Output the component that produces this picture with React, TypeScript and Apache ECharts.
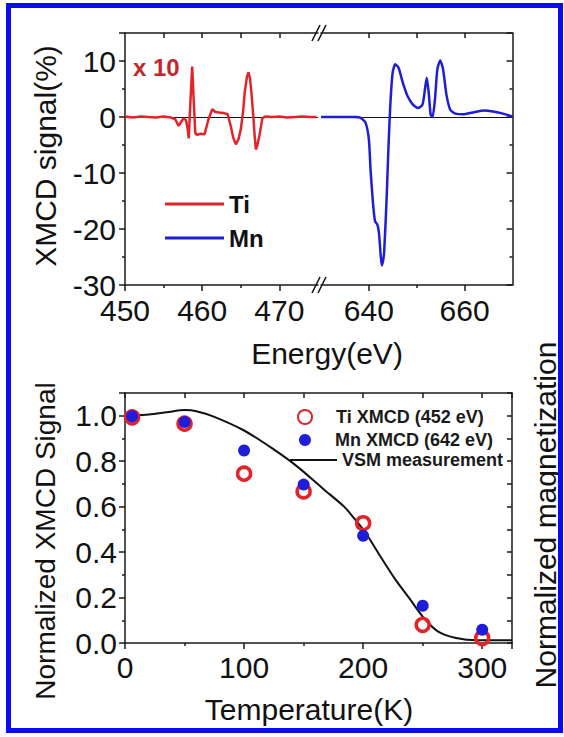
import React, { useEffect, useRef } from "react";
import * as echarts from "echarts";

// ---- Top panel: XMCD spectra ----
const tiEnergy = [450.0, 451.0, 452.0, 453.0, 454.0, 455.0, 456.0, 456.5, 456.95, 457.3, 457.6, 457.9, 458.1, 458.26, 458.45, 458.7, 458.9, 459.1, 459.3, 459.8, 460.3, 460.8, 461.3, 461.7, 462.2, 462.8, 463.3, 463.7, 464.0, 464.35, 464.7, 465.0, 465.3, 465.5, 465.8, 466.0, 466.2, 466.4, 466.65, 466.8, 466.95, 467.15, 467.4, 467.8, 468.2, 469.0, 470.0, 471.0, 472.0, 473.0, 474.0, 474.8];
const tiSignal = [0.1, -0.1, 0.1, 0.0, -0.1, 0.1, -0.1, -0.4, -1.6, -0.8, -0.2, -0.6, -2.0, -3.8, 2.0, 9.0, 3.0, -2.8, -3.2, -3.0, -3.1, -0.5, 1.4, 0.9, 0.8, 0.7, 0.5, -1.6, -3.6, -4.9, -4.0, -2.2, 1.0, 4.3, 7.2, 8.0, 6.8, 4.0, -0.4, -3.5, -5.8, -5.0, -3.4, -0.2, 0.1, 0.0, 0.1, -0.1, 0.0, 0.1, 0.0, 0.0];
const mnEnergy = [630, 632, 634, 636, 637.2, 638.2, 639.3, 640.0, 640.35, 640.85, 641.28, 641.77, 642.1, 642.45, 642.7, 643.0, 643.2, 643.7, 644.1, 644.5, 644.96, 645.5, 646.2, 647.1, 648.1, 649.2, 650.3, 651.2, 651.8, 652.1, 652.5, 652.9, 653.3, 653.8, 654.3, 654.9, 655.5, 656.2, 657.0, 658.1, 659.9, 662.0, 664.0, 665.9, 668.0, 670.0];
const mnSignal = [0, 0, 0, 0, 0, -0.1, -1.0, -4.0, -9.4, -15.3, -18.6, -19.2, -20.7, -24.5, -26.5, -25.5, -24.0, -14.7, -5.2, 2.5, 7.9, 9.4, 8.8, 6.1, 3.7, 2.2, 1.6, 2.2, 5.5, 7.0, 4.3, 0.45, 0.0, 3.1, 8.5, 10.1, 8.5, 4.0, 1.3, 0.6, 0.5, 0.85, 1.15, 1.0, 0.6, 0.1];

const tiMajorTicks = [450, 460, 470];
const tiMinorTicks = [455, 465];
const tiTopTicks = [455, 460, 465, 470];
const mnMajorTicks = [640, 660];
const mnMinorTicks = [650];
const mnTopTicks = [640, 650, 660];

// ---- Bottom panel: temperature dependence ----
const temps = [6, 50, 100, 150, 200, 250, 300];
const tiXmcd = [0.993, 0.965, 0.745, 0.667, 0.527, 0.08, 0.022];
const mnXmcd = [0.998, 0.972, 0.847, 0.697, 0.472, 0.164, 0.058];
const vsmTemp = [6, 20, 35, 50, 60, 75, 100, 124, 145, 166, 184, 193, 202, 214, 227, 239, 251, 263, 278, 296, 325];
const vsmMag = [1.0, 1.005, 1.015, 1.025, 1.02, 0.995, 0.935, 0.855, 0.775, 0.68, 0.6, 0.545, 0.485, 0.385, 0.28, 0.195, 0.11, 0.05, 0.022, 0.012, 0.012];

const FONT = "'Liberation Sans', Arial, Helvetica, sans-serif";
const RED = "#e3232a";
const BLUE = "#1e1ed8";
const AX = { color: "#1a1a1a", width: 1.5 };

function zip(a: number[], b: number[]) {
  return a.map((v, i) => [v, b[i]]);
}

export default function App() {
  const ref = useRef<HTMLDivElement>(null);
  useEffect(() => {
    if (!ref.current) return;
    const chart = echarts.init(ref.current, undefined, { renderer: "svg" });
    const label30 = { fontSize: 30, color: "#111", fontFamily: FONT };
    const noSplit = { show: false };
    const xBase = (grid: number, min: number, max: number) => ({
      type: "value",
      gridIndex: grid,
      min,
      max,
      splitLine: noSplit,
    });
    const legendText = { fontSize: 18, fontWeight: "bold", fontFamily: FONT, color: "#1a1a1a" };
    const option: any = {
      animation: false,
      backgroundColor: "#ffffff",
      grid: [
        { left: 125, top: 33, width: 193, height: 252 },
        { left: 321, top: 33, width: 191.5, height: 252 },
        { left: 125, top: 393, width: 387, height: 250 },
      ],
      xAxis: [
        {
          ...xBase(0, 450, 475),
          position: "bottom",
          axisLine: { show: true, onZero: false, lineStyle: AX },
          axisTick: { show: true, customValues: tiMajorTicks, length: 6, lineStyle: AX },
          axisLabel: { ...label30, customValues: tiMajorTicks, margin: 10 },
        },
        {
          ...xBase(0, 450, 475),
          position: "bottom",
          axisLine: { show: false, onZero: false },
          axisTick: { show: true, customValues: tiMinorTicks, length: 3, lineStyle: AX },
          axisLabel: { show: false },
        },
        {
          ...xBase(0, 450, 475),
          position: "top",
          axisLine: { show: true, onZero: false, lineStyle: AX },
          axisTick: { show: true, inside: true, customValues: tiTopTicks, length: 5, lineStyle: AX },
          axisLabel: { show: false },
        },
        {
          ...xBase(1, 630, 670),
          position: "bottom",
          axisLine: { show: true, onZero: false, lineStyle: AX },
          axisTick: { show: true, customValues: mnMajorTicks, length: 6, lineStyle: AX },
          axisLabel: { ...label30, customValues: mnMajorTicks, margin: 10 },
        },
        {
          ...xBase(1, 630, 670),
          position: "bottom",
          axisLine: { show: false, onZero: false },
          axisTick: { show: true, customValues: mnMinorTicks, length: 3, lineStyle: AX },
          axisLabel: { show: false },
        },
        {
          ...xBase(1, 630, 670),
          position: "top",
          axisLine: { show: true, onZero: false, lineStyle: AX },
          axisTick: { show: true, inside: true, customValues: mnTopTicks, length: 5, lineStyle: AX },
          axisLabel: { show: false },
        },
        {
          ...xBase(2, 0, 325),
          interval: 100,
          position: "bottom",
          axisLine: { show: true, onZero: false, lineStyle: AX },
          axisTick: { show: true, length: 6, lineStyle: AX },
          minorTick: { show: true, splitNumber: 2, length: 3, lineStyle: AX },
          axisLabel: { ...label30, margin: 9, showMaxLabel: false },
        },
        {
          ...xBase(2, 0, 325),
          interval: 50,
          position: "top",
          axisLine: { show: true, onZero: false, lineStyle: AX },
          axisTick: { show: true, inside: true, length: 5, lineStyle: AX },
          axisLabel: { show: false },
        },
      ],
      yAxis: [
        {
          type: "value",
          gridIndex: 0,
          position: "left",
          min: -30,
          max: 15,
          interval: 10,
          splitLine: noSplit,
          axisLine: { show: true, onZero: false, lineStyle: AX },
          axisTick: { show: true, length: 6, lineStyle: AX },
          minorTick: { show: true, splitNumber: 2, length: 3, lineStyle: AX },
          axisLabel: { ...label30, margin: 9, lineHeight: 14, showMaxLabel: false },
        },
        {
          type: "value",
          gridIndex: 1,
          position: "right",
          min: -30,
          max: 15,
          interval: 10,
          splitLine: noSplit,
          axisLine: { show: true, onZero: false, lineStyle: AX },
          axisTick: { show: true, inside: true, length: 6, lineStyle: AX },
          minorTick: { show: true, splitNumber: 2, length: 3, lineStyle: AX },
          axisLabel: { show: false },
        },
        {
          type: "value",
          gridIndex: 2,
          position: "left",
          min: 0,
          max: 1.1,
          interval: 0.2,
          splitLine: noSplit,
          axisLine: { show: true, onZero: false, lineStyle: AX },
          axisTick: { show: true, length: 6, lineStyle: AX },
          minorTick: { show: true, splitNumber: 2, length: 3, lineStyle: AX },
          axisLabel: {
            ...label30,
            margin: 8,
            lineHeight: 14,
            showMaxLabel: false,
            formatter: (v: number) => v.toFixed(1),
          },
        },
        {
          type: "value",
          gridIndex: 2,
          position: "right",
          min: 0,
          max: 1.1,
          interval: 0.1,
          splitLine: noSplit,
          axisLine: { show: true, onZero: false, lineStyle: AX },
          axisTick: { show: true, inside: true, length: 5, lineStyle: AX },
          axisLabel: { show: false },
        },
      ],
      legend: [
        {
          data: ["Ti", "Mn"],
          orient: "vertical",
          left: 165,
          top: 192,
          padding: 0,
          icon: "rect",
          itemWidth: 59,
          itemHeight: 3,
          itemGap: 10,
          selectedMode: false,
          textStyle: { fontSize: 24, fontWeight: "bold", fontFamily: FONT, color: "#111", lineHeight: 24 },
        },
        {
          data: ["Ti XMCD (452 eV)"],
          left: 297,
          top: 408,
          padding: 0,
          icon: "circle",
          itemWidth: 14,
          itemHeight: 14,
          selectedMode: false,
          textStyle: { ...legendText, padding: [0, 0, 0, 19] },
        },
        {
          data: ["Mn XMCD (642 eV)"],
          left: 299,
          top: 431,
          padding: 0,
          icon: "circle",
          itemWidth: 12,
          itemHeight: 12,
          selectedMode: false,
          textStyle: { ...legendText, padding: [0, 0, 0, 19] },
        },
        {
          data: ["VSM measurement"],
          left: 290,
          top: 451,
          padding: 0,
          icon: "rect",
          itemWidth: 47,
          itemHeight: 2,
          selectedMode: false,
          textStyle: legendText,
        },
      ],
      series: [
        {
          name: "Ti",
          type: "line",
          xAxisIndex: 0,
          yAxisIndex: 0,
          data: zip(tiEnergy, tiSignal),
          symbol: "none",
          color: RED,
          lineStyle: { color: RED, width: 2.5 },
          z: 3,
          markLine: {
            silent: true,
            z: 1,
            symbol: ["none", "none"],
            label: { show: false },
            lineStyle: { color: "#111", width: 1.2, type: "solid" },
            data: [{ yAxis: 0 }],
          },
        },
        {
          name: "Mn",
          type: "line",
          xAxisIndex: 3,
          yAxisIndex: 1,
          data: zip(mnEnergy, mnSignal),
          symbol: "none",
          smooth: 0.2,
          color: BLUE,
          lineStyle: { color: BLUE, width: 2.5 },
          z: 3,
          markLine: {
            silent: true,
            z: 1,
            symbol: ["none", "none"],
            label: { show: false },
            lineStyle: { color: "#111", width: 1.2, type: "solid" },
            data: [{ yAxis: 0 }],
          },
        },
        {
          name: "VSM measurement",
          type: "line",
          xAxisIndex: 6,
          yAxisIndex: 2,
          data: zip(vsmTemp, vsmMag),
          symbol: "none",
          smooth: 0.3,
          color: "#111",
          lineStyle: { color: "#111", width: 2 },
          z: 2,
        },
        {
          name: "Ti XMCD (452 eV)",
          type: "scatter",
          xAxisIndex: 6,
          yAxisIndex: 2,
          data: zip(temps, tiXmcd),
          symbol: "circle",
          symbolSize: 13,
          itemStyle: { color: "rgba(255,255,255,0)", borderColor: RED, borderWidth: 3.5, opacity: 1 },
          z: 3,
        },
        {
          name: "Mn XMCD (642 eV)",
          type: "scatter",
          xAxisIndex: 6,
          yAxisIndex: 2,
          data: zip(temps, mnXmcd),
          symbol: "circle",
          symbolSize: 12,
          itemStyle: { color: BLUE, opacity: 1 },
          z: 4,
        },
      ],
      graphic: [
        {
          type: "rect",
          shape: { x: 8.5, y: 5.5, width: 552, height: 725 },
          style: { fill: "none", stroke: "#0b0bf2", lineWidth: 5 },
          z: 10,
        },
        {
          type: "text",
          x: 133,
          y: 67,
          style: { text: "x 10", font: `bold 24px ${FONT}`, fill: "#c4262e", verticalAlign: "middle", align: "left" },
        },
        {
          type: "text",
          x: 45,
          y: 156,
          rotation: Math.PI / 2,
          style: { text: "XMCD signal(%)", font: `30px ${FONT}`, fill: "#111", align: "center", verticalAlign: "middle" },
        },
        {
          type: "text",
          x: 327,
          y: 353,
          style: { text: "Energy(eV)", font: `30px ${FONT}`, fill: "#111", align: "center", verticalAlign: "middle" },
        },
        {
          type: "text",
          x: 45,
          y: 541,
          rotation: Math.PI / 2,
          style: { text: "Normalized XMCD Signal", font: `28px ${FONT}`, fill: "#111", align: "center", verticalAlign: "middle" },
        },
        {
          type: "text",
          x: 545,
          y: 515,
          rotation: Math.PI / 2,
          style: { text: "Normalized magnetization", font: `30px ${FONT}`, fill: "#111", align: "center", verticalAlign: "middle" },
        },
        {
          type: "text",
          x: 309,
          y: 709,
          style: { text: "Temperature(K)", font: `30px ${FONT}`, fill: "#111", align: "center", verticalAlign: "middle" },
        },
        { type: "line", shape: { x1: 312, y1: 293, x2: 320, y2: 277 }, style: { stroke: "#111", lineWidth: 1.5 } },
        { type: "line", shape: { x1: 318, y1: 293, x2: 326, y2: 277 }, style: { stroke: "#111", lineWidth: 1.5 } },
        { type: "line", shape: { x1: 312, y1: 41, x2: 320, y2: 25 }, style: { stroke: "#111", lineWidth: 1.5 } },
        { type: "line", shape: { x1: 318, y1: 41, x2: 326, y2: 25 }, style: { stroke: "#111", lineWidth: 1.5 } },
      ],
    };
    chart.setOption(option);
    return () => chart.dispose();
  }, []);
  return (
    <div
      ref={ref}
      style={{ position: "fixed", left: 0, top: 0, width: 564, height: 737, background: "#fff" }}
    />
  );
}
